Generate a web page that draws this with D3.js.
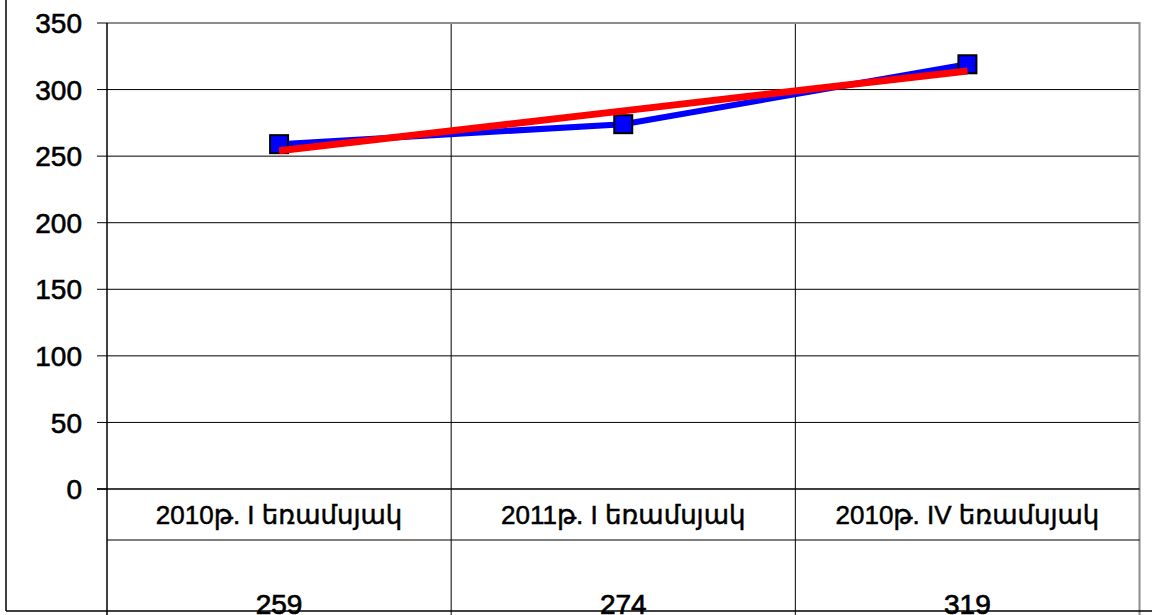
<!DOCTYPE html>
<html><head><meta charset="utf-8">
<script src="https://cdn.jsdelivr.net/npm/d3@7"></script>
<style>html,body{margin:0;padding:0;background:#fff;overflow:hidden}</style>
</head><body>
<svg id="chart" width="1152" height="615"></svg>
<script>
const categories = ["2010թ. I եռամսյակ", "2011թ. I եռամսյակ", "2010թ. IV եռամսյակ"];
const values = [259, 274, 319];
const yTicks = [0, 50, 100, 150, 200, 250, 300, 350];

(function () {
const svg = d3.select("#chart");
const W = 1152, H = 615;
const pL = 107, pR = 1139.5, pT = 23, pB = 489;
const rowLine = 540, tableBottom = 611;
const font = "'Liberation Sans', Arial, 'DejaVu Sans', sans-serif";

const x = d3.scaleBand().domain(categories).range([pL, pR]).padding(0);
const y = d3.scaleLinear().domain([0, 350]).range([pB, pT]);
const cx = c => x(c) + x.bandwidth() / 2;

// trend (linear regression)
const n = values.length;
const xs = d3.range(n);
const mx = d3.mean(xs), my = d3.mean(values);
const slope = d3.sum(xs, (i) => (i - mx) * (values[i] - my)) / d3.sum(xs, i => (i - mx) ** 2);
const trend = xs.map(i => my + slope * (i - mx));

// outer border
svg.append("line").attr("x1", 6).attr("x2", 6).attr("y1", 0).attr("y2", tableBottom).attr("stroke", "#000").attr("stroke-width", 1.5);

// horizontal gridlines
svg.append("g").selectAll("line").data(yTicks.filter(t => t !== 350 && t !== 0)).join("line")
  .attr("x1", pL).attr("x2", pR).attr("y1", d => y(d)).attr("y2", d => y(d))
  .attr("stroke", "#000").attr("stroke-width", 1);
// tick marks
svg.append("g").selectAll("line").data(yTicks).join("line")
  .attr("x1", pL - 10).attr("x2", pL).attr("y1", d => y(d)).attr("y2", d => y(d))
  .attr("stroke", "#000").attr("stroke-width", 1);

// vertical category separators (extend through table)
const bounds = categories.slice(1).map(c => x(c));
svg.append("g").selectAll("line").data(bounds).join("line")
  .attr("x1", d => d).attr("x2", d => d).attr("y1", pT).attr("y2", H)
  .attr("stroke", "#000").attr("stroke-width", 1);

// top and right border (gray)
svg.append("line").attr("x1", pL).attr("x2", pR).attr("y1", pT).attr("y2", pT).attr("stroke", "#8c8c8c").attr("stroke-width", 2);
svg.append("line").attr("x1", pR).attr("x2", pR).attr("y1", pT - 1).attr("y2", H).attr("stroke", "#8c8c8c").attr("stroke-width", 2);

// y axis line
svg.append("line").attr("x1", pL).attr("x2", pL).attr("y1", pT).attr("y2", H).attr("stroke", "#000").attr("stroke-width", 1.5);
// x axis line / table lines
svg.append("line").attr("x1", pL - 10).attr("x2", pR).attr("y1", pB).attr("y2", pB).attr("stroke", "#000").attr("stroke-width", 1.5);
svg.append("line").attr("x1", pL).attr("x2", pR).attr("y1", rowLine).attr("y2", rowLine).attr("stroke", "#000").attr("stroke-width", 1);

// y labels
svg.append("g").selectAll("text").data(yTicks).join("text")
  .attr("x", 82).attr("y", d => y(d)).attr("dy", "0.36em")
  .attr("text-anchor", "end").attr("font-family", font).attr("font-size", 28)
  .attr("fill", "#000").attr("stroke", "#000").attr("stroke-width", 0.6).text(d => d);

// category labels
svg.append("g").selectAll("text").data(categories).join("text")
  .attr("x", d => cx(d)).attr("y", 524)
  .attr("text-anchor", "middle").attr("font-family", font).attr("font-size", 26)
  .attr("fill", "#000").attr("stroke", "#000").attr("stroke-width", 0.5).text(d => d);

// value labels
svg.append("g").selectAll("text").data(values).join("text")
  .attr("x", (d, i) => cx(categories[i])).attr("y", 614)
  .attr("text-anchor", "middle").attr("font-family", font).attr("font-size", 28)
  .attr("fill", "#000").attr("stroke", "#000").attr("stroke-width", 0.7).text(d => d);
// bottom line drawn over the value text
svg.append("line").attr("x1", 6).attr("x2", W).attr("y1", tableBottom).attr("y2", tableBottom).attr("stroke", "#000").attr("stroke-width", 1.5);

// blue series line
const line = d3.line().x((d, i) => cx(categories[i])).y(d => y(d));
svg.append("path").datum(values).attr("d", line).attr("fill", "none")
  .attr("stroke", "#0000ff").attr("stroke-width", 6).attr("stroke-linejoin", "round");

// markers
svg.append("g").selectAll("rect").data(values).join("rect")
  .attr("x", (d, i) => cx(categories[i]) - 9).attr("y", d => y(d) - 9)
  .attr("width", 18).attr("height", 18)
  .attr("fill", "#0000ff").attr("stroke", "#000").attr("stroke-width", 2);

// red trend line
svg.append("path").datum(trend).attr("d", line).attr("fill", "none")
  .attr("stroke", "#ff0000").attr("stroke-width", 7);
})();
</script>
</body></html>
